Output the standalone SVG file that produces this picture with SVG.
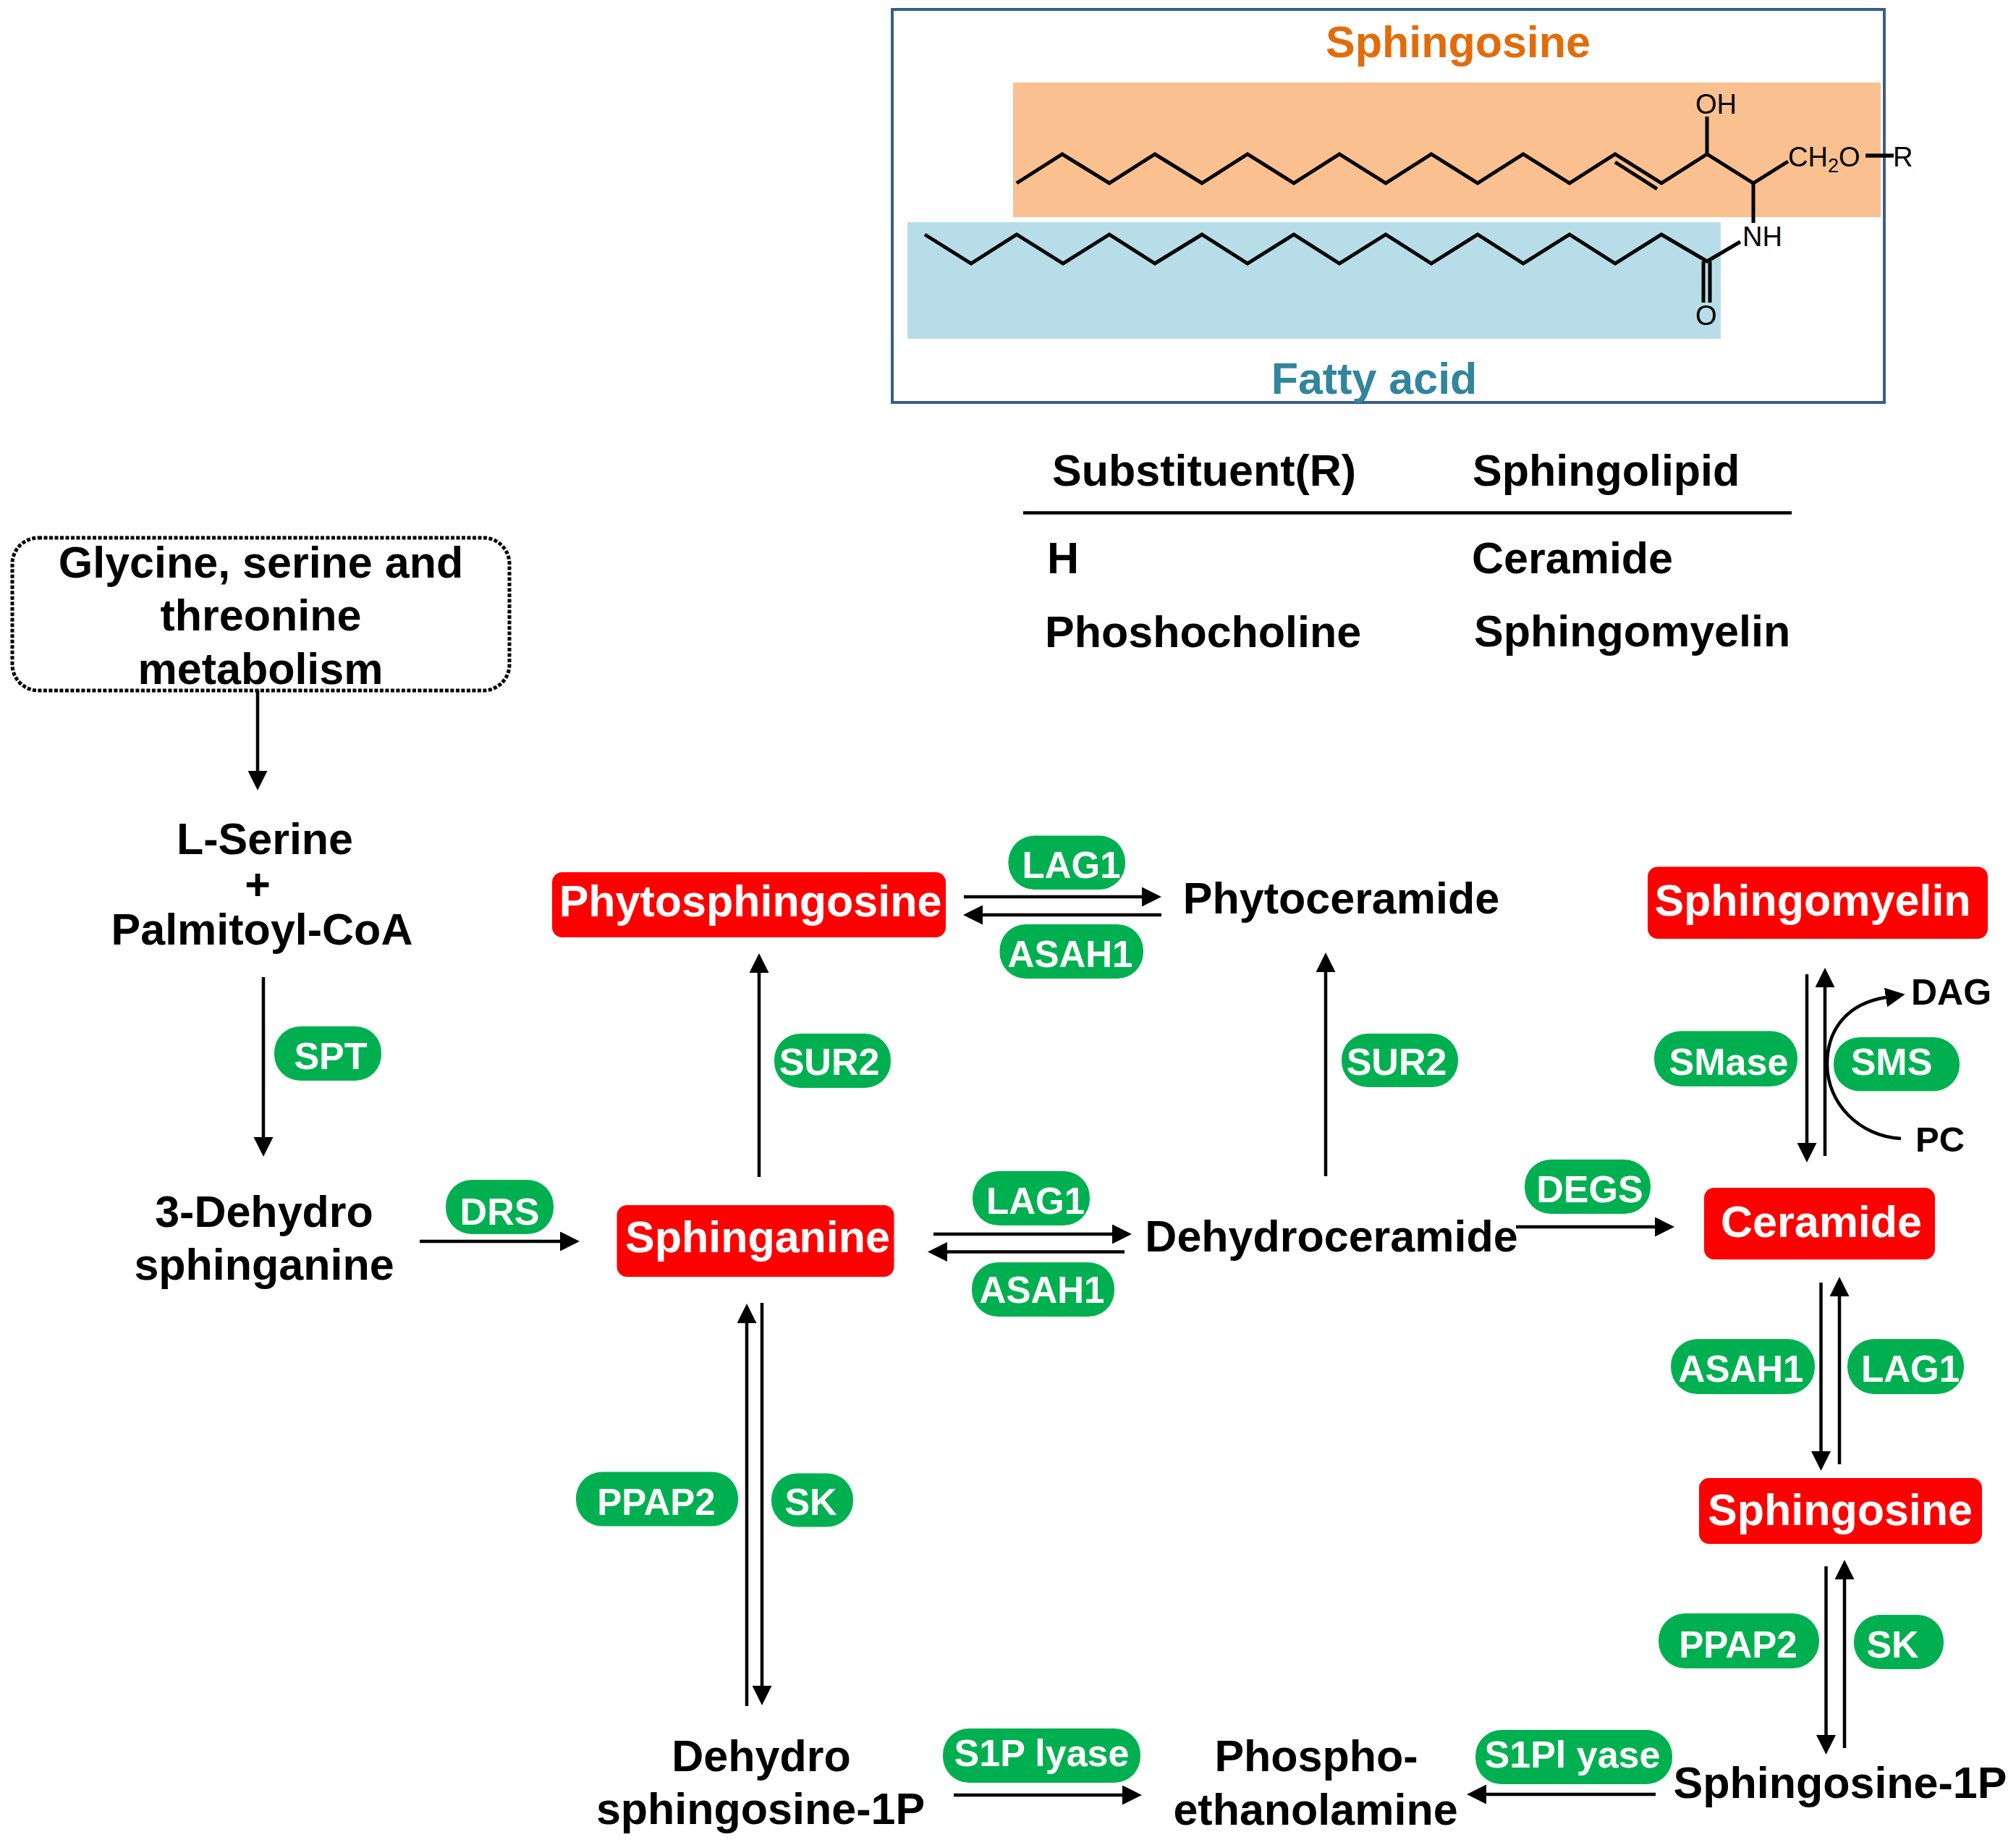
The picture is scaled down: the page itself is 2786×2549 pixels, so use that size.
<svg xmlns="http://www.w3.org/2000/svg" width="2786" height="2549" viewBox="0 0 2786 2549">
<style>
text{font-family:"Liberation Sans",Arial,sans-serif;font-weight:700;font-size:61px;fill:#000;text-anchor:middle}
.s{text-anchor:start}
.red rect{fill:#f00}
.red text{fill:#fff}
.pill rect{fill:#00B050}
.pill text{fill:#fff;font-size:52px}
.pill text.n{font-size:51px}
.chem text{font-weight:400;font-size:38px;text-anchor:start}
.chem path{fill:none;stroke:#000;stroke-width:5;stroke-linejoin:miter}
.ln{fill:none;stroke:#000;stroke-width:4.5}
.ar{marker-end:url(#ah)}
</style>
<defs>
<marker id="ah" viewBox="0 0 27 27" markerWidth="27" markerHeight="27" markerUnits="userSpaceOnUse" refX="0" refY="13.5" orient="auto"><polygon points="0,0 27,13.5 0,27" fill="#000"/></marker>
</defs>
<rect width="2786" height="2549" fill="#fff"/>

<g id="structure-panel">
<rect x="1233" y="13" width="1371" height="543" fill="#fff" stroke="#385D8A" stroke-width="4"/>
<rect x="1400" y="114" width="1199" height="186" fill="#FAC090"/>
<rect x="1254" y="307" width="1124" height="161" fill="#B7DEE8"/>
<text x="2015" y="79" style="fill:#E36C0A">Sphingosine</text>
<text x="1899" y="544" style="fill:#31859C">Fatty acid</text>
<g class="chem">
<path d="M1405 253L1468 213L1533 253L1596 213L1661 253L1724 213L1788 253L1851 213L1915 253L1978 213L2042 253L2105 213L2169 253L2232 213L2296 253L2359 213L2423 253L2471 223"/>
<path d="M2232 224L2290 261M2359 161V213M2423 253V308"/>
<path d="M1278 324L1342 364L1405 324L1469 364L1533 324L1596 364L1661 324L1724 364L1788 324L1851 364L1915 324L1978 364L2042 324L2105 364L2169 324L2232 364L2296 324L2359 361L2405 334"/>
<path d="M2354 361V418M2363 361V418"/>
<path d="M2578 215H2617" style="stroke-width:5.5"/>
<text x="2343" y="157">OH</text>
<text x="2471" y="230">CH<tspan dy="8" font-size="27">2</tspan><tspan dy="-8">O</tspan></text>
<text x="2616" y="230">R</text>
<text x="2408" y="340">NH</text>
<text x="2343" y="449">O</text>
</g>
</g>

<g id="substituent-table">
<path class="ln" d="M1414 708.5H2476"/>
<text class="s" x="1454" y="671">Substituent(R)</text>
<text class="s" x="2035" y="671">Sphingolipid</text>
<text class="s" x="1447" y="792">H</text>
<text class="s" x="2034" y="792">Ceramide</text>
<text class="s" x="1444" y="894">Phoshocholine</text>
<text class="s" x="2037" y="893">Sphingomyelin</text>
</g>

<g id="connectors">
<path class="ln ar" d="M356 953V1065"/>
<path class="ln ar" d="M364 1350V1571"/>
<path class="ln ar" d="M580 1715H774"/>
<path class="ln ar" d="M1049 1626V1344"/>
<path class="ln ar" d="M1832 1625V1343"/>
<path class="ln ar" d="M1332 1239H1578"/>
<path class="ln ar" d="M1605 1264H1358"/>
<path class="ln ar" d="M1290 1705H1537"/>
<path class="ln ar" d="M1554 1729.5H1309"/>
<path class="ln ar" d="M2095 1695H2287"/>
<path class="ln ar" d="M1032 2357V1828"/>
<path class="ln ar" d="M1053 1800V2329"/>
<path class="ln ar" d="M1318 2480H1551"/>
<path class="ln ar" d="M2288 2479H2054"/>
<path class="ln ar" d="M2497 1346V1579"/>
<path class="ln ar" d="M2522 1597V1364"/>
<path class="ln ar" d="M2627 1573C2570 1570 2525 1525 2525 1470C2525 1420 2555 1386 2606 1378"/>
<path class="ln ar" d="M2516.5 1772V2005"/>
<path class="ln ar" d="M2542 2023V1791"/>
<path class="ln ar" d="M2523.5 2164V2397"/>
<path class="ln ar" d="M2549 2415V2182"/>
</g>

<g id="glycine-metabolism">
<rect x="17" y="743" width="687" height="211" rx="36" fill="none" stroke="#000" stroke-width="5" stroke-dasharray="5 2.5"/>
<text x="360.5" y="798">Glycine, serine and</text>
<text x="360.5" y="871">threonine</text>
<text x="360" y="945">metabolism</text>
</g>
<g id="l-serine-palmitoyl-coa">
<text x="366" y="1180">L-Serine</text>
<text x="356" y="1243">+</text>
<text x="362" y="1305">Palmitoyl-CoA</text>
</g>
<g id="dehydrosphinganine">
<text x="365" y="1695">3-Dehydro</text>
<text x="365" y="1768">sphinganine</text>
</g>
<g id="phytosphingosine" class="red"><rect x="763" y="1205" width="544" height="90" rx="14"/><text x="1037" y="1266">Phytosphingosine</text></g>
<g id="sphinganine" class="red"><rect x="852.5" y="1665" width="383" height="99" rx="14"/><text x="1047" y="1729.5">Sphinganine</text></g>
<g id="sphingomyelin" class="red"><rect x="2277" y="1197.5" width="470" height="99.5" rx="14"/><text x="2505" y="1265">Sphingomyelin</text></g>
<g id="ceramide" class="red"><rect x="2355" y="1641" width="319" height="99" rx="14"/><text x="2517" y="1709">Ceramide</text></g>
<g id="sphingosine" class="red"><rect x="2348" y="2042" width="391" height="91" rx="14"/><text x="2543" y="2107">Sphingosine</text></g>
<g id="phytoceramide"><text x="1853.5" y="1262">Phytoceramide</text></g>
<g id="dehydroceramide"><text x="1840" y="1729">Dehydroceramide</text></g>
<g id="dehydrosphingosine-1p"><text x="1052" y="2447">Dehydro</text><text x="1051" y="2519.5">sphingosine-1P</text></g>
<g id="phosphoethanolamine"><text x="1819" y="2447">Phospho-</text><text x="1818" y="2521">ethanolamine</text></g>
<g id="sphingosine-1p"><text x="2543" y="2484">Sphingosine-1P</text></g>
<g id="dag"><text class="s" x="2641" y="1388" style="font-size:50px">DAG</text></g>
<g id="pc"><text class="s" x="2647" y="1591" style="font-size:49px">PC</text></g>

<g id="enzyme-spt" class="pill"><rect x="379" y="1418" width="148" height="75" rx="36"/><text x="457" y="1477">SPT</text></g>
<g id="enzyme-drs" class="pill"><rect x="616" y="1630" width="149" height="75" rx="36"/><text x="690.5" y="1692">DRS</text></g>
<g id="enzyme-lag1-a" class="pill"><rect x="1393.5" y="1154.5" width="161.5" height="74.5" rx="36"/><text class="n" x="1480.5" y="1212.5">LAG1</text></g>
<g id="enzyme-asah1-a" class="pill"><rect x="1381.5" y="1277" width="198.5" height="75" rx="36"/><text class="n" x="1479" y="1335.5">ASAH1</text></g>
<g id="enzyme-lag1-b" class="pill"><rect x="1344" y="1618" width="162" height="75" rx="36"/><text class="n" x="1431" y="1676.5">LAG1</text></g>
<g id="enzyme-asah1-b" class="pill"><rect x="1343" y="1744" width="197" height="75" rx="36"/><text class="n" x="1440" y="1799.5">ASAH1</text></g>
<g id="enzyme-sur2-a" class="pill"><rect x="1070" y="1428" width="161" height="75" rx="36"/><text x="1146" y="1485">SUR2</text></g>
<g id="enzyme-sur2-b" class="pill"><rect x="1854" y="1428" width="161" height="74" rx="36"/><text x="1930" y="1484.5">SUR2</text></g>
<g id="enzyme-smase" class="pill"><rect x="2286" y="1424.5" width="198" height="76.5" rx="37"/><text x="2389" y="1485">SMase</text></g>
<g id="enzyme-sms" class="pill"><rect x="2534" y="1433" width="174" height="74.5" rx="36"/><text x="2614" y="1485">SMS</text></g>
<g id="enzyme-degs" class="pill"><rect x="2107" y="1602" width="174" height="75" rx="36"/><text x="2197" y="1661">DEGS</text></g>
<g id="enzyme-asah1-c" class="pill"><rect x="2309" y="1850" width="199" height="76" rx="37"/><text class="n" x="2406" y="1909">ASAH1</text></g>
<g id="enzyme-lag1-c" class="pill"><rect x="2553" y="1850" width="161" height="76" rx="37"/><text class="n" x="2640" y="1909">LAG1</text></g>
<g id="enzyme-ppap2-a" class="pill"><rect x="796" y="2033.5" width="224" height="75" rx="36"/><text class="n" x="907" y="2093">PPAP2</text></g>
<g id="enzyme-sk-a" class="pill"><rect x="1066" y="2035.5" width="113" height="74" rx="36"/><text x="1120.5" y="2093">SK</text></g>
<g id="enzyme-ppap2-b" class="pill"><rect x="2292" y="2229" width="222" height="76" rx="37"/><text class="n" x="2402" y="2289.5">PPAP2</text></g>
<g id="enzyme-sk-b" class="pill"><rect x="2562" y="2231" width="124" height="75" rx="36"/><text x="2615.5" y="2289.5">SK</text></g>
<g id="enzyme-s1p-lyase-a" class="pill"><rect x="1303" y="2388" width="273" height="75" rx="36"/><text x="1439.5" y="2440">S1P lyase</text></g>
<g id="enzyme-s1p-lyase-b" class="pill"><rect x="2039" y="2390" width="272" height="75" rx="36"/><text x="2173" y="2442">S1Pl yase</text></g>
</svg>
